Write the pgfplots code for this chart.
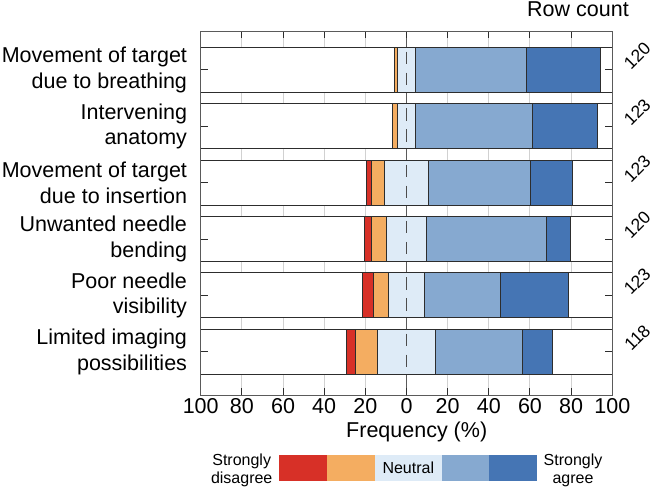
\documentclass[border=0pt]{standalone}
\usepackage{pgfplots}
\usepackage{pgfplotstable}
\usepackage{fontspec}
\pgfplotsset{compat=1.18}
\setmainfont{Liberation Sans}

\definecolor{cSD}{RGB}{215,48,39}
\definecolor{cD}{RGB}{244,173,97}
\definecolor{cN}{RGB}{222,235,247}
\definecolor{cA}{RGB}{134,169,208}
\definecolor{cSA}{RGB}{69,117,180}
\definecolor{cEdge}{RGB}{45,45,45}
\definecolor{cFrame}{RGB}{90,90,90}

\newcommand\bigf{\fontsize{21.5bp}{25.5bp}\selectfont}
\newcommand\midf{\fontsize{17.5bp}{20bp}\selectfont}
\newcommand\smallf{\fontsize{16bp}{18bp}\selectfont}

% percentages per answer (sd, d, n, a, sa); x runs 0..200 with 100 = the
% centre line, base = where the bar starts
\pgfplotstableread{
row base sd d n a sa
1 94.15 0 1.7 8.3 54.2 35.8
2 93.15 0 2.4 8.9 56.9 31.7
3 80.55 2.4 6.5 21.1 49.6 20.3
4 79.6 3.3 7.5 19.2 58.3 11.7
5 78.85 4.9 7.3 17.9 36.6 33.3
6 70.8 4.2 11.0 28.0 42.4 14.4
}\survey

\pgfplotsset{panel axis/.style={
  at={(0,0)}, anchor=south west,
  scale only axis, width=411.6bp, height=364bp,
  xmin=0, xmax=200, ymin=0.312, ymax=6.766, y dir=reverse,
  xtick={0,20,...,200},
  ytick={1,2,3,4,5,6}, yticklabels={},
  tick align=inside, xtick pos=both, ytick pos=both,
  major tick length=7bp,
  axis line style={draw=cFrame, line width=1bp},
  tick style={draw=cEdge, line width=1bp},
  clip=false,
}}

\begin{document}
\begin{tikzpicture}
\path[use as bounding box] (-200.7bp,-93bp) rectangle (453.3bp,395bp);
% background: grid and the white panels
\begin{axis}[panel axis,
  xticklabels={},
  xmajorgrids, grid style={color=black!18, line width=1bp},
  extra x ticks={100}, extra x tick labels={},
  extra x tick style={grid style={color=cFrame, line width=1.2bp}},
]
\pgfplotsinvokeforeach{1,...,6}{
  \filldraw[fill=white, draw=cEdge, line width=1bp] (axis cs:0,{#1-0.4}) rectangle (axis cs:200,{#1+0.4});
}
\end{axis}

% the stacked bars
\begin{axis}[panel axis,
  xbar stacked, bar width=45.1bp,
  xticklabels={100,80,60,40,20,0,20,40,60,80,100},
  xticklabel pos=bottom,
  ticklabel style={font=\bigf},
  /pgf/number format/assume math mode=true,
]
\addplot[draw=none, fill=none] table[x=base, y=row] {\survey};
\addplot[fill=cSD, draw=cEdge, line width=1bp] table[x=sd, y=row] {\survey};
\addplot[fill=cD, draw=cEdge, line width=1bp] table[x=d, y=row] {\survey};
\addplot[fill=cN, draw=cEdge, line width=1bp] table[x=n, y=row] {\survey};
\addplot[fill=cA, draw=cEdge, line width=1bp] table[x=a, y=row] {\survey};
\addplot[fill=cSA, draw=cEdge, line width=1bp] table[x=sa, y=row] {\survey};

% question labels
\node[anchor=east, align=right, font=\bigf, inner sep=0pt] at (axis cs:0,1) [xshift=-13.5bp] {Movement of target\\due to breathing};
\node[anchor=east, align=right, font=\bigf, inner sep=0pt] at (axis cs:0,2) [xshift=-13.5bp] {Intervening\\anatomy};
\node[anchor=east, align=right, font=\bigf, inner sep=0pt] at (axis cs:0,3) [xshift=-13.5bp] {Movement of target\\due to insertion};
\node[anchor=east, align=right, font=\bigf, inner sep=0pt] at (axis cs:0,4) [xshift=-13.5bp] {Unwanted needle\\bending};
\node[anchor=east, align=right, font=\bigf, inner sep=0pt] at (axis cs:0,5) [xshift=-13.5bp] {Poor needle\\visibility};
\node[anchor=east, align=right, font=\bigf, inner sep=0pt] at (axis cs:0,6) [xshift=-13.5bp] {Limited imaging\\possibilities};

% row counts
\node[rotate=45, font=\midf, inner sep=1pt] at ([xshift=25bp, yshift=14bp]axis cs:200,1) {120};
\node[rotate=45, font=\midf, inner sep=1pt] at ([xshift=25bp, yshift=14bp]axis cs:200,2) {123};
\node[rotate=45, font=\midf, inner sep=1pt] at ([xshift=25bp, yshift=14bp]axis cs:200,3) {123};
\node[rotate=45, font=\midf, inner sep=1pt] at ([xshift=25bp, yshift=14bp]axis cs:200,4) {120};
\node[rotate=45, font=\midf, inner sep=1pt] at ([xshift=25bp, yshift=14bp]axis cs:200,5) {123};
\node[rotate=45, font=\midf, inner sep=1pt] at ([xshift=25bp, yshift=14bp]axis cs:200,6) {118};
\end{axis}

% dashed centre line on top of the bars
\begin{axis}[panel axis, hide axis]
\pgfplotsinvokeforeach{1,...,6}{
  \draw[color=cFrame!85!black, line width=1.7bp, dash pattern=on 12.5bp off 8.5bp, dash phase=16.5bp]
    (axis cs:100,{#1-0.4}) -- (axis cs:100,{#1+0.4});
}
\end{axis}

\node[anchor=base, font=\bigf] at (377.3bp,378bp) {Row count};
\node[anchor=base, font=\bigf] at (216bp,-42bp) {Frequency (\%)};

% colour key
\fill[cSD] (78.6bp,-60bp) rectangle (126bp,-85.7bp);
\fill[cD] (126bp,-60bp) rectangle (174.3bp,-85.7bp);
\fill[cN] (174.3bp,-60bp) rectangle (241bp,-85.7bp);
\fill[cA] (241bp,-60bp) rectangle (288.6bp,-85.7bp);
\fill[cSA] (288.6bp,-60bp) rectangle (336bp,-85.7bp);
\node[font=\smallf] at (207.6bp,-72.8bp) {Neutral};
\node[font=\smallf, align=center] at (41bp,-75bp) {Strongly\\disagree};
\node[font=\smallf, align=center] at (372.3bp,-75bp) {Strongly\\agree};
\end{tikzpicture}
\end{document}
